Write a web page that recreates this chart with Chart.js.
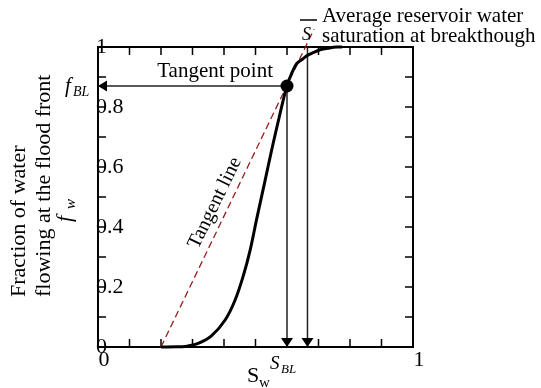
<!DOCTYPE html>
<html>
<head>
<meta charset="utf-8">
<script src="https://cdn.jsdelivr.net/npm/chart.js@4"></script>
<style>
    html, body { margin: 0; padding: 0; background: #ffffff; }
    #wrap { width: 541px; height: 388px; position: relative; }
</style>
</head>
<body>
<div id="wrap"><canvas id="fwChart"></canvas></div>
<script>
// Fractional flow curve
const satW = [0.2, 0.25, 0.276, 0.318, 0.361, 0.403, 0.435, 0.462, 0.483, 0.504, 0.530, 0.551, 0.575, 0.60, 0.612, 0.631, 0.65, 0.665, 0.685, 0.705, 0.735, 0.758, 0.775];
const fracW = [0, 0.0005, 0.002, 0.012, 0.038, 0.089, 0.156, 0.24, 0.323, 0.428, 0.553, 0.655, 0.765, 0.872, 0.905, 0.945, 0.96, 0.972, 0.982, 0.991, 0.997, 1.0, 1.0];

// Tangent line drawn from the initial water saturation
const tangentSw = [0.2, 0.686];
const tangentFw = [0, 1.06];

// Tangent point and average saturation at breakthrough
const swBL = 0.6;
const fwBL = 0.87;
const swAvg = 0.665;

// Inward tick marks every 0.1 on all four sides
const minorTicks = [0, 0.1, 0.2, 0.3, 0.4, 0.5, 0.6, 0.7, 0.8, 0.9, 1];

const serif = '"Liberation Serif", "Times New Roman", serif';

function pts(xs, ys) {
    return xs.map((x, i) => ({ x: x, y: ys[i] }));
}

// Frame, inward ticks, arrow heads and the text annotations
const figureDecor = {
    id: 'figureDecor',
    beforeDatasetsDraw(chart) {
        const { ctx, chartArea: a, scales: { x, y } } = chart;
        ctx.save();
        ctx.strokeStyle = '#000';
        ctx.lineWidth = 1.5;
        ctx.beginPath();
        minorTicks.forEach(v => {
            const px = x.getPixelForValue(v);
            const py = y.getPixelForValue(v);
            ctx.moveTo(px, a.bottom); ctx.lineTo(px, a.bottom - 8);
            ctx.moveTo(px, a.top); ctx.lineTo(px, a.top + 8);
            ctx.moveTo(a.left, py); ctx.lineTo(a.left + 8, py);
            ctx.moveTo(a.right, py); ctx.lineTo(a.right - 8, py);
        });
        ctx.stroke();
        ctx.lineWidth = 2;
        ctx.strokeRect(a.left, a.top, a.right - a.left, a.bottom - a.top);
        ctx.restore();
    },
    afterDatasetsDraw(chart) {
        const { ctx, chartArea: a, scales: { x, y } } = chart;
        ctx.save();
        ctx.fillStyle = '#000';

        // arrow heads
        [swBL, swAvg].forEach(s => {
            const px = x.getPixelForValue(s);
            ctx.beginPath();
            ctx.moveTo(px, a.bottom);
            ctx.lineTo(px - 6, a.bottom - 9);
            ctx.lineTo(px + 6, a.bottom - 9);
            ctx.closePath();
            ctx.fill();
        });
        const py = y.getPixelForValue(fwBL);
        ctx.beginPath();
        ctx.moveTo(a.left, py);
        ctx.lineTo(a.left + 9, py - 5.5);
        ctx.lineTo(a.left + 9, py + 5.5);
        ctx.closePath();
        ctx.fill();

        ctx.textBaseline = 'alphabetic';
        ctx.textAlign = 'left';

        // Tangent point
        ctx.font = '21px ' + serif;
        ctx.textAlign = 'right';
        ctx.fillText('Tangent point', 273, 77);
        ctx.textAlign = 'left';

        // Average saturation note
        ctx.fillText('Average reservoir water', 322, 22);
        ctx.fillText('saturation at breakthough', 322, 42);
        ctx.font = 'italic 18px ' + serif;
        ctx.fillText('S', 302, 40);
        ctx.lineWidth = 1.5;
        ctx.strokeStyle = '#000';
        ctx.beginPath();
        ctx.moveTo(300, 20); ctx.lineTo(317, 20);
        ctx.stroke();

        // f_BL
        ctx.font = 'italic 21px ' + serif;
        ctx.fillText('f', 65, 92);
        ctx.font = 'italic 14px ' + serif;
        ctx.fillText('BL', 73, 96);

        // S_w axis title
        ctx.font = '22px ' + serif;
        ctx.fillText('S', 247, 382);
        ctx.font = '15px ' + serif;
        ctx.fillText('w', 259, 387);

        // S_BL
        ctx.font = 'italic 19px ' + serif;
        ctx.fillText('S', 270, 369);
        ctx.font = 'italic 13px ' + serif;
        ctx.fillText('BL', 281, 373);

        // Tangent line label
        ctx.save();
        ctx.translate(215, 203);
        ctx.rotate(-64 * Math.PI / 180);
        ctx.font = '20px ' + serif;
        ctx.textAlign = 'center';
        ctx.textBaseline = 'middle';
        ctx.fillText('Tangent line', 0, 0);
        ctx.restore();

        // y axis title
        ctx.font = '22px ' + serif;
        ctx.save();
        ctx.translate(25, 297);
        ctx.rotate(-Math.PI / 2);
        ctx.fillText('Fraction of water', 0, 0);
        ctx.fillText('flowing at the flood front', 0, 25);
        ctx.restore();

        ctx.save();
        ctx.translate(71, 222);
        ctx.rotate(-Math.PI / 2);
        ctx.font = 'italic 22px ' + serif;
        ctx.fillText('f', 0, 0);
        ctx.font = 'italic 15px ' + serif;
        ctx.fillText('w', 13, 4);
        ctx.restore();

        ctx.restore();
    }
};

const ctx = document.getElementById('fwChart').getContext('2d');
const chart = new Chart(ctx, {
    type: 'scatter',
    data: {
        datasets: [{
            label: 'Tangent point',
            data: [{ x: swBL, y: fwBL }],
            pointRadius: 6.5,
            pointBackgroundColor: '#000',
            pointBorderWidth: 0,
            showLine: false
        }, {
            label: 'fw',
            data: pts(satW, fracW),
            showLine: true,
            borderColor: '#000',
            borderWidth: 3,
            pointRadius: 0,
            tension: 0.35,
            clip: false
        }, {
            label: 'Tangent line',
            data: pts(tangentSw, tangentFw),
            showLine: true,
            borderColor: '#9b1c1c',
            borderWidth: 1.3,
            borderDash: [7, 4],
            pointRadius: 0,
            clip: false
        }, {
            label: 'fBL arrow',
            data: [{ x: swBL, y: fwBL }, { x: 0, y: fwBL }],
            showLine: true,
            borderColor: '#222',
            borderWidth: 1.5,
            pointRadius: 0
        }, {
            label: 'SBL arrow',
            data: [{ x: swBL, y: fwBL }, { x: swBL, y: 0 }],
            showLine: true,
            borderColor: '#222',
            borderWidth: 1.5,
            pointRadius: 0
        }, {
            label: 'S avg arrow',
            data: [{ x: swAvg, y: 1 }, { x: swAvg, y: 0 }],
            showLine: true,
            borderColor: '#222',
            borderWidth: 1.5,
            pointRadius: 0
        }]
    },
    options: {
        responsive: true,
        maintainAspectRatio: false,
        animation: false,
        layout: {
            padding: { left: 98, right: 128, top: 47, bottom: 0 }
        },
        plugins: {
            legend: { display: false },
            tooltip: { enabled: false }
        },
        scales: {
            x: {
                type: 'linear',
                min: 0,
                max: 1,
                grid: { display: false, drawTicks: false },
                border: { display: false },
                ticks: {
                    stepSize: 1,
                    padding: 0,
                    labelOffset: 6,
                    color: '#000',
                    font: { family: serif, size: 22 }
                },
                afterFit: s => { s.height = 41; }
            },
            y: {
                type: 'linear',
                min: 0,
                max: 1,
                grid: { display: false, drawTicks: false },
                border: { display: false },
                ticks: {
                    stepSize: 0.2,
                    mirror: true,
                    padding: -2,
                    color: '#000',
                    font: { family: serif, size: 22 },
                    callback: v => String(Math.round(v * 10) / 10)
                },
                afterFit: s => { s.width = 0; }
            }
        }
    },
    plugins: [figureDecor]
});
</script>
</body>
</html>
